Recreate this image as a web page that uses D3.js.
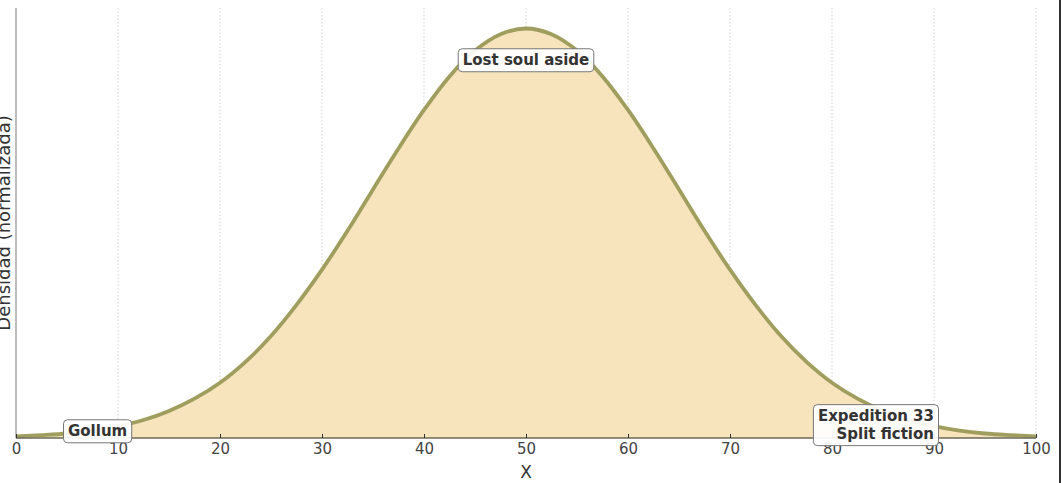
<!DOCTYPE html>
<html>
<head>
<meta charset="utf-8">
<script src="https://cdn.jsdelivr.net/npm/d3@7"></script>
<style>
  html, body { margin: 0; padding: 0; background: #fff; }
  svg { display: block; font-family: "DejaVu Sans", sans-serif; }
  .x.axis text { fill: #444; font-size: 15px; font-family: "DejaVu Sans", sans-serif; }
  .x.axis .domain { display: none; }
</style>
</head>
<body>
<svg id="chart" width="1061" height="483"></svg>
<script>
// Curve values (normalized density)
const xValues = [0, 2.5, 5, 7.5, 10, 12.5, 15, 17.5, 20, 22.5, 25, 27.5, 30, 32.5, 35, 37.5, 40, 42.5, 45, 47.5,
  50, 52.5, 55, 57.5, 60, 62.5, 65, 67.5, 70, 72.5, 75, 77.5, 80, 82.5, 85, 87.5, 90, 92.5, 95, 97.5, 100];
const densityValues = [0.004, 0.007, 0.011, 0.018, 0.029, 0.044, 0.066, 0.096, 0.135, 0.186, 0.249, 0.325, 0.411,
  0.506, 0.607, 0.707, 0.801, 0.883, 0.946, 0.986, 1.0, 0.986, 0.946, 0.883, 0.801, 0.707, 0.607, 0.506, 0.411,
  0.325, 0.249, 0.186, 0.135, 0.096, 0.066, 0.044, 0.029, 0.018, 0.011, 0.007, 0.004];

const xTicks = [0, 10, 20, 30, 40, 50, 60, 70, 80, 90, 100];

// Annotations
const noteLines = [["Gollum"], ["Lost soul aside"], ["Expedition 33", "Split fiction"]];
const noteX = [8, 50, 90];
const noteY = [0.017, 0.923, 0.032];
const noteAnchor = ["middle", "middle", "end"];

const svg = d3.select("#chart");
const pad = { left: 16, right: 25, top: 8, bottom: 45 };
const width = 1061, height = 483;
const innerW = width - pad.left - pad.right;
const innerH = height - pad.top - pad.bottom;

const x = d3.scaleLinear().domain([0, 100]).range([0, innerW]);
const y = d3.scaleLinear().domain([0, 1.05]).range([innerH, 0]);

const g = svg.append("g").attr("transform", `translate(${pad.left},${pad.top})`);

// Dotted vertical grid
g.append("g")
  .attr("class", "grid")
  .selectAll("line")
  .data(xTicks)
  .join("line")
  .attr("x1", (d) => x(d))
  .attr("x2", (d) => x(d))
  .attr("y1", 0)
  .attr("y2", innerH)
  .attr("stroke", "#c8c8c8")
  .attr("stroke-width", 0.8)
  .attr("stroke-dasharray", "1.5,2");

const data = d3.zip(xValues, densityValues);

const area = d3.area()
  .curve(d3.curveCatmullRom)
  .x((d) => x(d[0]))
  .y0(y(0))
  .y1((d) => y(d[1]));

const line = d3.line()
  .curve(d3.curveCatmullRom)
  .x((d) => x(d[0]))
  .y((d) => y(d[1]));

g.append("path")
  .datum(data)
  .attr("d", area)
  .attr("fill", "#f7e4bd");

g.append("path")
  .datum(data)
  .attr("d", line)
  .attr("fill", "none")
  .attr("stroke", "#a09e5e")
  .attr("stroke-width", 3.8)
  .attr("stroke-linejoin", "round");

// Spines
g.append("line")
  .attr("x1", 0).attr("x2", 0)
  .attr("y1", 0).attr("y2", innerH)
  .attr("stroke", "#aaa")
  .attr("stroke-width", 1.5);

g.append("line")
  .attr("x1", 0).attr("x2", innerW)
  .attr("y1", innerH).attr("y2", innerH)
  .attr("stroke", "#6b6a58")
  .attr("stroke-width", 1.3);

// x axis with inward ticks
g.append("g")
  .attr("class", "x axis")
  .attr("transform", `translate(0,${innerH})`)
  .call(d3.axisBottom(x).tickValues(xTicks).tickSize(-4).tickPadding(5))
  .call((a) => a.selectAll(".tick line").attr("stroke", "#333").attr("stroke-width", 1));

// Axis labels
svg.append("text")
  .attr("x", pad.left + innerW / 2)
  .attr("y", 478)
  .attr("text-anchor", "middle")
  .attr("fill", "#333")
  .attr("font-size", 17)
  .text("X");

svg.append("text")
  .attr("transform", `translate(10,${pad.top + innerH / 2}) rotate(-90)`)
  .attr("text-anchor", "middle")
  .attr("fill", "#333")
  .attr("font-size", 18)
  .text("Densidad (normalizada)");

// Annotation boxes
const lineH = 18;
noteLines.forEach((lines, i) => {
  const ng = g.append("g")
    .attr("transform", `translate(${x(noteX[i])},${y(noteY[i])})`);
  const t = ng.append("text")
    .attr("text-anchor", noteAnchor[i])
    .attr("font-size", 15)
    .attr("font-weight", "bold")
    .attr("fill", "#333");
  lines.forEach((s, j) => {
    t.append("tspan")
      .attr("x", 0)
      .attr("y", (j - (lines.length - 1) / 2) * lineH)
      .attr("dy", "0.35em")
      .text(s);
  });
  const bb = t.node().getBBox();
  ng.insert("rect", "text")
    .attr("x", bb.x - 4.5)
    .attr("y", bb.y - 2.5)
    .attr("width", bb.width + 9)
    .attr("height", bb.height + 5)
    .attr("rx", 4)
    .attr("fill", "#fff")
    .attr("fill-opacity", 0.92)
    .attr("stroke", "#777")
    .attr("stroke-width", 1);
});

// Dark edge on the right of the picture
svg.append("rect")
  .attr("x", 1059)
  .attr("y", 0)
  .attr("width", 2)
  .attr("height", height)
  .attr("fill", "#333");
</script>
</body>
</html>
